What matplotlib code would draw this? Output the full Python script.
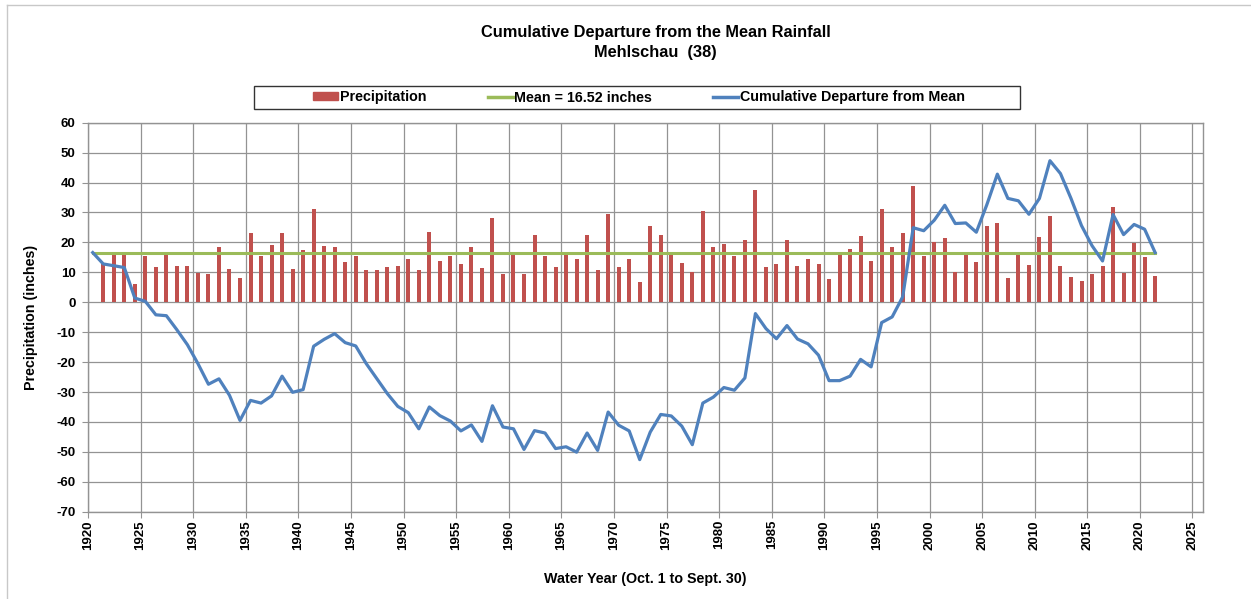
import matplotlib
matplotlib.use('Agg')
import matplotlib.pyplot as plt
from matplotlib.lines import Line2D
from matplotlib.patches import Rectangle
import numpy as np

# Annual rainfall by water year (inches)
years = np.arange(1921, 2022)
precip = [
    12.8, 15.7, 15.7, 6.2, 15.5, 11.7, 16.2, 12.0, 12.0, 9.9,
    9.6, 18.3, 11.0, 8.1, 23.3, 15.6, 19.2, 23.0, 11.0, 17.4,
    31.1, 18.8, 18.3, 13.5, 15.3, 10.7, 10.9, 11.7, 12.0, 14.6,
    10.9, 23.5, 13.7, 15.3, 12.8, 18.3, 11.3, 28.3, 9.3, 15.7,
    9.6, 22.6, 15.5, 11.7, 16.2, 14.6, 22.6, 10.7, 29.4, 11.7,
    14.6, 6.8, 25.6, 22.6, 15.7, 13.0, 10.1, 30.4, 18.5, 19.4,
    15.5, 20.8, 37.6, 11.7, 12.8, 20.8, 12.0, 14.6, 12.8, 7.7,
    16.2, 17.9, 22.1, 13.7, 31.2, 18.5, 23.2, 39.0, 15.5, 20.0,
    21.5, 10.1, 16.3, 13.5, 25.6, 26.5, 8.1, 15.7, 12.3, 21.7,
    28.9, 12.0, 8.4, 7.2, 9.4, 12.0, 31.9, 9.9, 19.8, 15.0,
    8.7,
]

mean_rain = 16.52

# Cumulative departure curve, one point per year starting 1920
cum_years = np.arange(1920, 2022)
cum_departure = [
    16.6, 12.8, 12.2, 11.6, 1.4, 0.3, -4.2, -4.5, -9.2, -14.2,
    -20.5, -27.4, -25.6, -31.1, -39.5, -32.8, -33.7, -31.3, -24.7, -30.1,
    -29.2, -14.7, -12.4, -10.5, -13.5, -14.6, -20.5, -25.5, -30.5, -34.8,
    -36.9, -42.3, -35.0, -37.9, -39.7, -43.0, -41.0, -46.5, -34.6, -41.7,
    -42.3, -49.2, -42.9, -43.7, -48.9, -48.3, -50.1, -43.7, -49.5, -36.7,
    -41.1, -43.0, -52.6, -43.4, -37.5, -38.0, -41.4, -47.6, -33.7, -31.7,
    -28.5, -29.4, -25.3, -3.8, -8.8, -12.2, -7.8, -12.3, -13.9, -17.7,
    -26.2, -26.2, -24.7, -19.1, -21.6, -6.8, -4.9, 1.8, 24.9, 23.9,
    27.4, 32.4, 26.3, 26.5, 23.4, 32.6, 42.8, 34.7, 33.9, 29.4,
    34.7, 47.3, 43.0, 34.7, 25.6, 18.9, 13.8, 29.3, 22.6, 26.0,
    24.4, 16.6,
]

x_ticks = np.arange(1920, 2026, 5)
y_ticks = np.arange(-70, 61, 10)

RED = '#C0504D'
GREEN = '#9BBB59'
BLUE = '#4F81BD'
GRID = '#939393'

plt.rcParams['font.family'] = ['Liberation Sans', 'DejaVu Sans']
plt.rcParams['font.weight'] = 'bold'
plt.rcParams['axes.unicode_minus'] = False

fig = plt.figure(figsize=(12.51, 5.99), dpi=100)
ax = fig.add_axes([88 / 1251, 1 - 511.7 / 599, (1203 - 88) / 1251, (511.7 - 122.7) / 599])

shift = 0.45  # values plotted mid-year
ax.bar(years + shift, precip, width=0.38, color=RED, zorder=2)
ax.plot([cum_years[0] + shift, cum_years[-1] + shift], [mean_rain, mean_rain],
        color=GREEN, lw=2.2, zorder=3)
ax.plot(cum_years + shift, cum_departure, color=BLUE, lw=2.3, zorder=4)

ax.set_xlim(1920, 2026)
ax.set_ylim(-70, 60)
ax.set_xticks(x_ticks)
ax.set_yticks(y_ticks)
ax.tick_params(axis='x', labelrotation=90, labelsize=9.5, length=4, direction='out',
               color=GRID, pad=2)
ax.tick_params(axis='y', labelsize=9.5, length=4, direction='out', color=GRID, pad=5)
for lbl in ax.get_xticklabels() + ax.get_yticklabels():
    lbl.set_fontweight('bold')
ax.grid(True, color=GRID, lw=0.9, zorder=0)
ax.set_axisbelow(True)
for sp in ax.spines.values():
    sp.set_color(GRID)
    sp.set_linewidth(1)

ax.set_ylabel('Precipitation (inches)', fontsize=10.3, fontweight='bold', labelpad=13)
ax.set_xlabel('Water Year (Oct. 1 to Sept. 30)', fontsize=10.3, fontweight='bold', labelpad=16)

fig.text(0.5245, 1 - 33 / 599, 'Cumulative Departure from the Mean Rainfall',
         ha='center', va='center', fontsize=11.8, fontweight='bold')
fig.text(0.5235, 1 - 52 / 599, 'Mehlschau  (38)',
         ha='center', va='center', fontsize=11.8, fontweight='bold')

# legend with its own box
handles = [
    Rectangle((0, 0), 1, 1, color=RED),
    Line2D([], [], color=GREEN, lw=2.5),
    Line2D([], [], color=BLUE, lw=2.5),
]
labels = ['Precipitation', 'Mean = 16.52 inches', 'Cumulative Departure from Mean']
fig.legend(handles, labels, ncol=3, frameon=False, loc='center',
           bbox_to_anchor=(639 / 1251, 1 - 97.5 / 599),
           prop={'size': 10.3, 'weight': 'bold'}, handlelength=1.75, handleheight=0.5,
           handletextpad=0.1, columnspacing=4.3, borderpad=0)
fig.patches.append(Rectangle((254 / 1251, 1 - 109 / 599), (1020 - 254) / 1251, 23 / 599,
                             transform=fig.transFigure, fill=False,
                             edgecolor='#333333', lw=1))

# outer chart border
fig.add_artist(Line2D([7 / 1251, 7 / 1251], [0, 1 - 5 / 599], color='#C8C8C8', lw=1))
fig.add_artist(Line2D([7 / 1251, 1], [1 - 5 / 599, 1 - 5 / 599], color='#C8C8C8', lw=1))

fig.savefig('out.png', dpi=100, facecolor='white')
